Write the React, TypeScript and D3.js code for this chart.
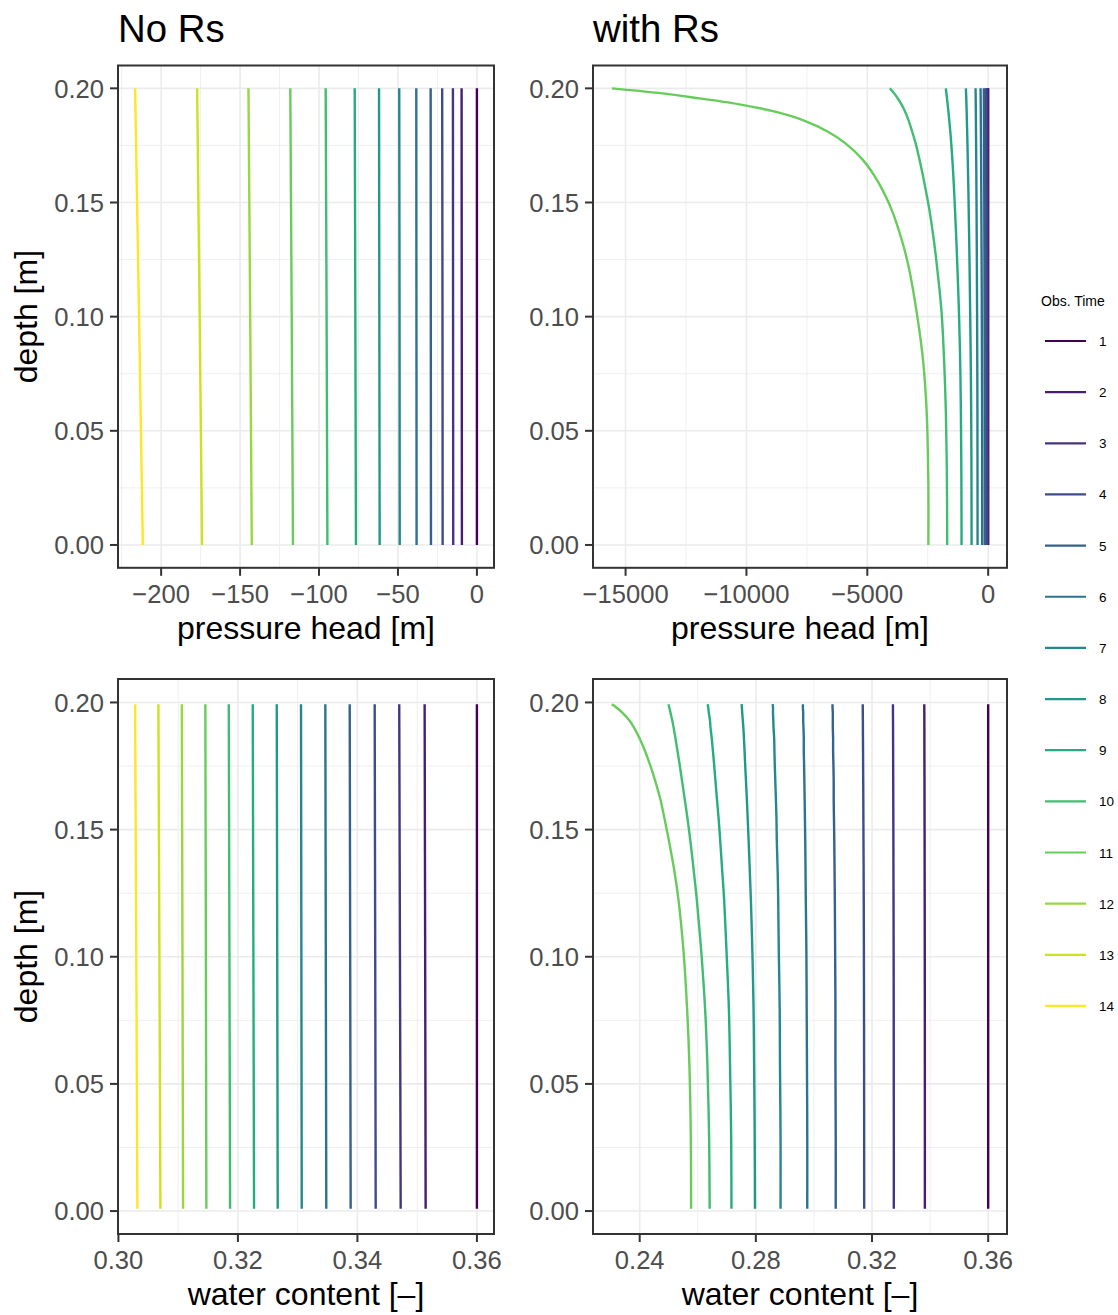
import React from 'react';
import * as d3 from 'd3';

const OBS_TIMES = [1, 2, 3, 4, 5, 6, 7, 8, 9, 10, 11, 12, 13, 14];

// depths for the "No Rs" panels
const DEPTH_PH_L = [0.2, 0.1, 0.0];
const DEPTH_WC_L = [0.1993, 0.1, 0.0009];
// depths for the "with Rs" panels
const DEPTH_PH_R = [0.2, 0.198, 0.196, 0.193, 0.19, 0.186, 0.181, 0.176, 0.169, 0.162, 0.154, 0.146, 0.134, 0.122, 0.102, 0.08, 0.058, 0.029, 0.0];
const DEPTH_WC_R = [0.1993, 0.198, 0.196, 0.193, 0.19, 0.186, 0.181, 0.176, 0.169, 0.162, 0.154, 0.146, 0.134, 0.122, 0.102, 0.08, 0.058, 0.029, 0.0009];

// pressure head, no Rs (obs time 1..14)
const PH_NO_RS = [
  [0, 0, 0],
  [-9.7, -9.6, -9.5],
  [-15.2, -15.1, -15.0],
  [-22.0, -21.8, -21.7],
  [-29.3, -29.2, -29.1],
  [-38.4, -38.3, -38.2],
  [-49.2, -49.0, -48.9],
  [-62.0, -61.8, -61.6],
  [-77.4, -77.0, -76.6],
  [-95.8, -95.2, -94.7],
  [-118.2, -117.3, -116.5],
  [-144.7, -143.6, -142.6],
  [-177.2, -175.6, -174.1],
  [-216.5, -214.0, -211.6],
];

// water content, no Rs
const WC_NO_RS = [
  [0.36, 0.36, 0.36],
  [0.35125, 0.35134, 0.35142],
  [0.347, 0.34712, 0.34724],
  [0.34289, 0.34298, 0.34306],
  [0.33871, 0.33879, 0.33887],
  [0.33463, 0.33471, 0.33479],
  [0.33056, 0.33062, 0.33068],
  [0.3265, 0.32658, 0.32666],
  [0.32248, 0.32259, 0.3227],
  [0.31847, 0.31858, 0.31869],
  [0.31455, 0.31464, 0.31472],
  [0.31061, 0.31072, 0.31082],
  [0.30669, 0.30686, 0.30703],
  [0.30279, 0.30299, 0.30318],
];

// pressure head, with Rs (obs time 1..11)
const PH_RS = [
  [0, 0, 0, 0, 0, 0, 0, 0, 0, 0, 0, 0, 0, 0, 0, 0, 0, 0, 0],
  [-20, -19.8, -19.6, -19.4, -19.2, -19, -18.7, -18.4, -18.1, -17.7, -17.3, -17, -16.5, -16.1, -15.4, -14.9, -14.4, -14.1, -14],
  [-50, -49.5, -49.2, -48.8, -48.3, -47.8, -47.2, -46.6, -45.8, -45, -44.2, -43.4, -42.5, -41.5, -40.1, -38.9, -37.9, -37.3, -37],
  [-100, -99, -98.4, -97.5, -96.6, -95.7, -94.5, -93.3, -91.8, -90.3, -88.8, -87.3, -85.5, -83.7, -81, -78.6, -76.8, -75.6, -75],
  [-180, -179, -178, -176, -175, -173, -171, -169, -167, -165, -162, -160, -157, -154, -150, -146, -143, -141, -140],
  [-315, -313, -311, -309, -306, -304, -300, -297, -293, -289, -285, -281, -276, -271, -264, -258, -253, -250, -248],
  [-522, -519, -517, -514, -511, -508, -504, -500, -495, -490, -485, -480, -474, -468, -459, -451, -445, -441, -439],
  [-923, -915, -907, -899, -891, -881, -869, -858, -844, -831, -817, -805, -786, -770, -745, -721, -703, -691, -687],
  [-1752, -1730, -1708, -1677, -1646, -1609, -1567, -1529, -1483, -1443, -1404, -1369, -1319, -1275, -1209, -1158, -1129, -1109, -1101],
  [-4070, -3901, -3764, -3587, -3444, -3293, -3144, -3003, -2846, -2705, -2556, -2420, -2254, -2118, -1928, -1820, -1750, -1708, -1696],
  [-15569, -13647, -12207, -10296, -8902, -7640, -6627, -5915, -5212, -4724, -4298, -3963, -3586, -3293, -2958, -2685, -2544, -2478, -2474],
];

// water content, with Rs (obs time 1..11)
const WC_RS = [
  [0.36, 0.36, 0.36, 0.36, 0.36, 0.36, 0.36, 0.36, 0.36, 0.36, 0.36, 0.36, 0.36, 0.36, 0.36, 0.36, 0.36, 0.36, 0.36],
  [0.338, 0.338, 0.33801, 0.33802, 0.33803, 0.33803, 0.33804, 0.33805, 0.33807, 0.33808, 0.33809, 0.33811, 0.33812, 0.33814, 0.33816, 0.33818, 0.33819, 0.3382, 0.3382],
  [0.3272, 0.32721, 0.32721, 0.32723, 0.32724, 0.32725, 0.32727, 0.32728, 0.3273, 0.32732, 0.32734, 0.32736, 0.32738, 0.32741, 0.32744, 0.32747, 0.32748, 0.3275, 0.3275],
  [0.3168, 0.31681, 0.31682, 0.31685, 0.31686, 0.31688, 0.31691, 0.31693, 0.31697, 0.317, 0.31703, 0.31706, 0.31711, 0.31715, 0.3172, 0.31724, 0.31727, 0.31729, 0.3173],
  [0.3064, 0.3064, 0.3065, 0.3065, 0.3065, 0.3066, 0.3066, 0.3067, 0.3068, 0.3068, 0.3069, 0.307, 0.3071, 0.3072, 0.3073, 0.3074, 0.3074, 0.3075, 0.3075],
  [0.2962, 0.2962, 0.2963, 0.2963, 0.2964, 0.2965, 0.2965, 0.2966, 0.2967, 0.2968, 0.2969, 0.297, 0.2971, 0.2972, 0.2974, 0.2975, 0.2976, 0.2977, 0.2977],
  [0.2858, 0.2859, 0.2859, 0.286, 0.2861, 0.2863, 0.2864, 0.2865, 0.2867, 0.2869, 0.2871, 0.2872, 0.2875, 0.2877, 0.2879, 0.2882, 0.2883, 0.2885, 0.2885],
  [0.2751, 0.2752, 0.2753, 0.2755, 0.2757, 0.2759, 0.2761, 0.2763, 0.2766, 0.2769, 0.2772, 0.2775, 0.2779, 0.2783, 0.2788, 0.2792, 0.2794, 0.2796, 0.2797],
  [0.2634, 0.2636, 0.2638, 0.2642, 0.2644, 0.2648, 0.2652, 0.2656, 0.2661, 0.2666, 0.2672, 0.2677, 0.2684, 0.2691, 0.2699, 0.2707, 0.2711, 0.2715, 0.2716],
  [0.2499, 0.2502, 0.2506, 0.2512, 0.2517, 0.2523, 0.253, 0.2537, 0.2546, 0.2555, 0.2565, 0.2574, 0.2586, 0.2597, 0.2612, 0.2625, 0.2633, 0.2639, 0.2641],
  [0.2304, 0.232, 0.234, 0.2364, 0.2381, 0.2399, 0.2418, 0.2434, 0.2454, 0.2471, 0.2486, 0.25, 0.2519, 0.2534, 0.2551, 0.2563, 0.2571, 0.2576, 0.2577],
];

const Y_TICKS = [0, 0.05, 0.1, 0.15, 0.2];
const X_TICKS_PH_L = [-200, -150, -100, -50, 0];
const X_TICKS_PH_R = [-15000, -10000, -5000, 0];
const X_TICKS_WC_L = [0.3, 0.32, 0.34, 0.36];
const X_TICKS_WC_R = [0.24, 0.28, 0.32, 0.36];

const FONT = "'Liberation Sans', Arial, Helvetica, sans-serif";
const colorOf = (t: number) => d3.interpolateViridis((t - 1) / 13);

function expand(ext: [number, number]): [number, number] {
  const r = ext[1] - ext[0];
  return [ext[0] - 0.05 * r, ext[1] + 0.05 * r];
}

function minorTicks(major: number[], dom: [number, number]) {
  const step = major[1] - major[0];
  const out: number[] = [];
  for (let v = major[0] - step / 2; v <= major[major.length - 1] + step / 2 + 1e-12; v += step) {
    if (v >= dom[0] && v <= dom[1]) out.push(v);
  }
  return out;
}

type PanelProps = {
  x0: number; x1: number; y0: number; y1: number;
  depth: number[]; values: number[][];
  xTicks: number[]; xFmt: (v: number) => string;
  xTitle: string; showYTitle: boolean; title?: string;
};

function Panel(p: PanelProps) {
  const all = p.values.flat();
  const xDom = expand(d3.extent(all) as [number, number]);
  const yDom = expand(d3.extent(p.depth) as [number, number]);
  const x = d3.scaleLinear().domain(xDom).range([p.x0, p.x1]);
  const y = d3.scaleLinear().domain(yDom).range([p.y1, p.y0]);
  const xMinor = minorTicks(p.xTicks, xDom);
  const yMinor = minorTicks(Y_TICKS, yDom);
  const line = d3
    .line<number>()
    .x((v) => x(v))
    .y((_, i) => y(p.depth[i]))
    .curve(d3.curveCatmullRom.alpha(0.5));
  const yFmt = d3.format('.2f');
  const grid = '#EBEBEB';
  const dark = '#333333';
  return (
    <g>
      <rect x={p.x0} y={p.y0} width={p.x1 - p.x0} height={p.y1 - p.y0} fill="#fff" />
      {xMinor.map((v) => (
        <line key={'xm' + v} x1={x(v)} x2={x(v)} y1={p.y0} y2={p.y1} stroke={grid} strokeWidth={0.8} />
      ))}
      {yMinor.map((v) => (
        <line key={'ym' + v} x1={p.x0} x2={p.x1} y1={y(v)} y2={y(v)} stroke={grid} strokeWidth={0.8} />
      ))}
      {p.xTicks.map((v) => (
        <line key={'xM' + v} x1={x(v)} x2={x(v)} y1={p.y0} y2={p.y1} stroke={grid} strokeWidth={1.6} />
      ))}
      {Y_TICKS.map((v) => (
        <line key={'yM' + v} x1={p.x0} x2={p.x1} y1={y(v)} y2={y(v)} stroke={grid} strokeWidth={1.6} />
      ))}
      {p.values.map((vals, i) => (
        <path key={'s' + i} d={line(vals) || ''} fill="none" stroke={colorOf(OBS_TIMES[i])} strokeWidth={2.4} />
      ))}
      <rect x={p.x0} y={p.y0} width={p.x1 - p.x0} height={p.y1 - p.y0} fill="none" stroke={dark} strokeWidth={2} />
      {p.xTicks.map((v) => (
        <g key={'xt' + v}>
          <line x1={x(v)} x2={x(v)} y1={p.y1} y2={p.y1 + 8} stroke={dark} strokeWidth={2} />
          <text x={x(v)} y={p.y1 + 35} textAnchor="middle" fontSize={25.6} fill="#4D4D4D" fontFamily={FONT}>
            {p.xFmt(v)}
          </text>
        </g>
      ))}
      {Y_TICKS.map((v) => (
        <g key={'yt' + v}>
          <line x1={p.x0 - 8} x2={p.x0} y1={y(v)} y2={y(v)} stroke={dark} strokeWidth={2} />
          <text x={p.x0 - 14} y={y(v) + 9.2} textAnchor="end" fontSize={25.6} fill="#4D4D4D" fontFamily={FONT}>
            {yFmt(v)}
          </text>
        </g>
      ))}
      <text x={(p.x0 + p.x1) / 2} y={p.y1 + 71} textAnchor="middle" fontSize={32} fill="#000" fontFamily={FONT}>
        {p.xTitle}
      </text>
      {p.showYTitle && (
        <text
          transform={`translate(37,${(p.y0 + p.y1) / 2}) rotate(-90)`}
          textAnchor="middle"
          fontSize={32}
          fill="#000"
          fontFamily={FONT}
        >
          depth [m]
        </text>
      )}
      {p.title && (
        <text x={p.x0} y={p.y0 - 24} fontSize={38.4} fill="#000" fontFamily={FONT}>
          {p.title}
        </text>
      )}
    </g>
  );
}

export default function App() {
  const intFmt = d3.format('d');
  const wcFmt = d3.format('.2f');
  return (
    <svg
      width={1118}
      height={1315}
      style={{ position: 'absolute', left: 0, top: 0, display: 'block', background: '#fff' }}
    >
      <rect x={0} y={0} width={1118} height={1315} fill="#fff" />
      <Panel x0={118} x1={494} y0={65.5} y1={567.8} depth={DEPTH_PH_L} values={PH_NO_RS}
        xTicks={X_TICKS_PH_L} xFmt={intFmt} xTitle="pressure head [m]" showYTitle title="No Rs" />
      <Panel x0={593} x1={1007} y0={65.5} y1={567.8} depth={DEPTH_PH_R} values={PH_RS}
        xTicks={X_TICKS_PH_R} xFmt={intFmt} xTitle="pressure head [m]" showYTitle={false} title="with Rs" />
      <Panel x0={118} x1={494} y0={679} y1={1234} depth={DEPTH_WC_L} values={WC_NO_RS}
        xTicks={X_TICKS_WC_L} xFmt={wcFmt} xTitle="water content [–]" showYTitle />
      <Panel x0={593} x1={1007} y0={679} y1={1234} depth={DEPTH_WC_R} values={WC_RS}
        xTicks={X_TICKS_WC_R} xFmt={wcFmt} xTitle="water content [–]" showYTitle={false} />
      <g>
        <text x={1041} y={306} fontSize={14} fill="#000" fontFamily={FONT}>Obs. Time</text>
        {OBS_TIMES.map((t, i) => {
          const yy = 341 + i * 51.15;
          return (
            <g key={'lg' + t}>
              <line x1={1045} x2={1086} y1={yy} y2={yy} stroke={colorOf(t)} strokeWidth={2.2} />
              <text x={1099} y={yy + 5} fontSize={13.5} fill="#000" fontFamily={FONT}>{t}</text>
            </g>
          );
        })}
      </g>
    </svg>
  );
}
